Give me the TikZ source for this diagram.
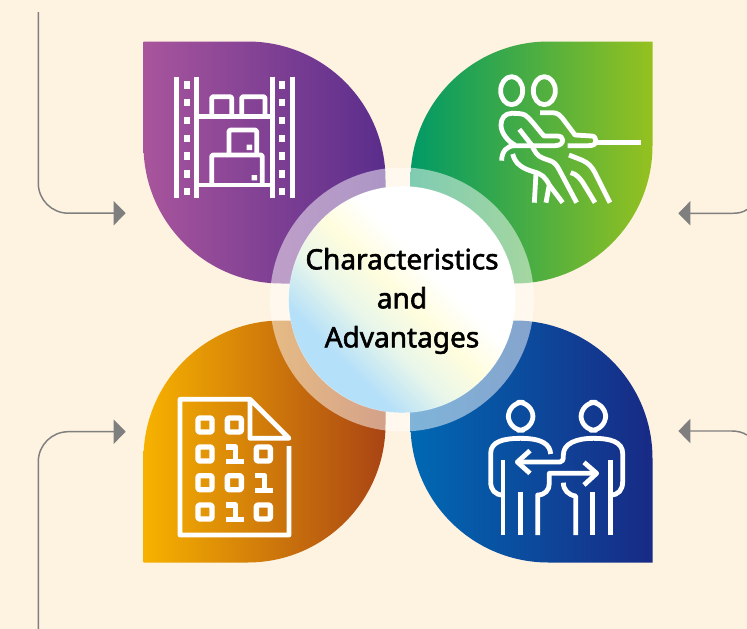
\documentclass[tikz,border=0pt]{standalone}
\usepackage{fontspec}
\usepackage{tikz}
\usetikzlibrary{arrows.meta}
\newfontfamily\hubFont{Noto Sans}[FakeBold=2]
\definecolor{pageBg}{HTML}{FEF2E0}
\definecolor{lineGray}{HTML}{7F7F7F}
\definecolor{purpleA}{HTML}{A8559C}
\definecolor{purpleB}{HTML}{5A2D8C}
\definecolor{greenA}{HTML}{009A66}
\definecolor{greenB}{HTML}{95C11F}
\definecolor{orangeA}{HTML}{F7B200}
\definecolor{orangeB}{HTML}{A94414}
\definecolor{blueA}{HTML}{0069B3}
\definecolor{blueB}{HTML}{182A85}
\definecolor{hubYellow}{HTML}{FFFDDD}
\definecolor{hubGreen}{HTML}{E8F6EA}
\definecolor{hubBlue}{HTML}{B5E0F9}
\pgfdeclarehorizontalshading{hubShade}{100bp}{color(0bp)=(white);color(41bp)=(white);color(49.5bp)=(hubYellow);color(59bp)=(hubGreen);color(69bp)=(hubBlue);color(100bp)=(hubBlue)}
% leaves, #1 and #2 are the top left corner
\newcommand{\leafTL}[3]{\path[#3] (#1,#2) -- (#1+104,#2) arc (-90:0:138) -- (#1+242,#2+242) -- (#1+138,#2+242) arc (90:180:138) -- cycle;}
\newcommand{\leafTR}[3]{\path[#3] (#1+242,#2) -- (#1+242,#2+104) arc (0:90:138) -- (#1,#2+242) -- (#1,#2+138) arc (180:270:138) -- cycle;}
\begin{document}
\begin{tikzpicture}[x=0.75pt, y=-0.75pt, line join=round]
  \tikzset{
    iconLine/.style={draw=white, line width=3.6pt},
    iconZoom/.style={x=0.25pt, y=-0.25pt},
    connector/.style={draw=lineGray, line width=1.1pt},
    headArrow/.style={-{Triangle[length=9pt,width=18pt]}},
    ring/.style={draw=white, opacity=0.5, line width=14.2pt},
  }
  \fill[pageBg] (0,0) rectangle (747,629);
  \useasboundingbox (0,0) rectangle (747,629);
  % petals
  \leafTL{143.5}{41.5}{left color=purpleA, right color=purpleB}
  \leafTR{410.5}{41.5}{left color=greenA, right color=greenB}
  \leafTR{143.5}{320.5}{left color=orangeA, right color=orangeB}
  \leafTL{410.5}{320.5}{left color=blueA, right color=blueB}
  % middle
  \node[circle, minimum size=170pt, inner sep=0pt, shading=hubShade, shading angle=225] (hub) at (402,299.5) {};
  \draw[ring] (hub.center) circle (122.5);
  \node[align=center, font=\hubFont\fontsize{21}{29.25}\selectfont] (hubText) at (402,301) {Characteristics\\and\\Advantages};
  % connectors
  \coordinate (railTL) at (38.3,12);
  \coordinate (tipTL) at (125.7,213.2);
  \coordinate (railBL) at (38.3,629);
  \coordinate (tipBL) at (125.7,431.7);
  \coordinate (railTR) at (747,209.5);
  \coordinate (tipTR) at (678.3,213.3);
  \coordinate (railBR) at (747,435);
  \coordinate (tipBR) at (678.3,431);
  \draw[connector, headArrow, rounded corners=22.5pt] (railTL) -- (railTL |- tipTL) -- (tipTL);
  \draw[connector, headArrow, rounded corners=22.5pt] (railBL) -- (railBL |- tipBL) -- (tipBL);
  \draw[connector, headArrow] (railTR) .. controls (743,212.5) and (738,213.3) .. (732,213.3) -- (tipTR);
  \draw[connector, headArrow] (railBR) .. controls (743,432.5) and (738,431) .. (732,431) -- (tipBR);
  % shelf icon
  \begin{scope}[shift={(130,30)}, iconZoom]
    \foreach \x in {140,200,427,487}
      \draw[iconLine, line width=4.2pt] (\x,140) -- (\x,503);
    \foreach \x in {170,457}
      \foreach \y in {165,218,272,325,378,432,485}
        \fill[white] (\x-9,\y-11) rectangle (\x+9,\y+11);
    \draw[iconLine] (200,260) -- (427,260) (200,465) -- (427,465);
    \draw[iconLine, rounded corners=1pt] (245,260) -- (245,200) -- (305,200) -- (305,260);
    \draw[iconLine, rounded corners=1pt] (335,260) -- (335,200) -- (405,200) -- (405,260);
    \draw[iconLine, rounded corners=1pt] (245,465) -- (245,375) -- (397,375) -- (397,465);
    \draw[iconLine, rounded corners=1pt] (297,375) -- (297,300) -- (380,300) -- (380,375);
    \fill[white] (350,344) rectangle (366,360) (365,435) rectangle (381,451);
  \end{scope}
  % rope icon
  \begin{scope}[shift={(400,30)}, iconZoom]
    \draw[iconLine] (335,182) ellipse (33 and 42);
    \draw[iconLine] (433,182) ellipse (33 and 42);
    \draw[iconLine] (305,392) .. controls (305,365) and (320,347) .. (345,347) -- (465,347) .. controls (480,347) and (488,340) .. (488,330) .. controls (488,322) and (482,318) .. (470,318) -- (432,318) .. controls (415,300) and (395,270) .. (375,255) .. controls (365,250) and (350,250) .. (335,250) .. controls (315,250) and (303,265) .. (303,285) .. controls (303,310) and (325,335) .. (345,345);
    \draw[iconLine] (358,298) -- (395,345) .. controls (405,365) and (410,378) .. (430,385) -- (450,392) .. controls (465,398) and (470,405) .. (478,420) -- (530,518);
    \draw[iconLine] (338,372) .. controls (345,400) and (365,415) .. (400,425) .. controls (425,432) and (435,440) .. (448,465) -- (488,518);
    \draw[iconLine] (408,430) -- (403,518) (447,468) -- (438,518);
    \draw[iconLine] (420,248) -- (455,248) .. controls (475,248) and (480,255) .. (495,275) -- (525,315) -- (575,318) .. controls (585,318) and (587,325) .. (587,338) .. controls (585,343) and (580,347) .. (565,347) -- (503,347);
    \draw[iconLine] (587,338) -- (722,338);
    \draw[iconLine] (507,375) -- (545,390) .. controls (565,398) and (575,410) .. (585,428) -- (630,518);
    \draw[iconLine] (512,428) .. controls (530,432) and (540,445) .. (550,460) -- (585,518);
  \end{scope}
  % data icon
  \begin{scope}[shift={(130,310)}, iconZoom]
    \draw[iconLine] (477,408) -- (477,675) -- (150,675) -- (150,268) -- (360,268) -- (360,385) -- (477,385) -- (360,268);
    \foreach \x/\y in {225/345,313/345,225/432,400/432,225/518,313/518,225/606,400/606}
      \draw[iconLine, line width=4pt, rounded corners=1pt] (\x-21,\y-21) rectangle (\x+21,\y+21);
    \foreach \x/\y in {313/432,400/518,313/606}
      \draw[iconLine, line width=3.8pt] (\x-25,\y-21) -- (\x+4,\y-21) -- (\x+4,\y+23) (\x-25,\y+23) -- (\x+30,\y+23);
  \end{scope}
  % exchange icon
  \begin{scope}[shift={(400,310)}, iconZoom]
    \draw[iconLine, rounded corners=11pt] (325,277) rectangle (399,361);
    \draw[iconLine, rounded corners=11pt] (543,277) rectangle (617,361);
    \draw[iconLine] (452,432) .. controls (450,405) and (430,385) .. (362,385) .. controls (310,385) and (272,395) .. (272,430) -- (272,515) .. controls (272,540) and (285,555) .. (309,555);
    \draw[iconLine] (309,450) -- (309,675) (362,545) -- (362,675);
    \draw[iconLine] (413,675) -- (413,555) .. controls (435,555) and (448,540) .. (448,520) -- (448,490) -- (590,490);
    \draw[iconLine] (552,457) -- (590,490) -- (552,525);
    \draw[iconLine] (390,422) -- (352,456) -- (390,490);
    \draw[iconLine] (352,456) -- (480,456) .. controls (488,456) and (490,450) .. (490,435) .. controls (490,400) and (530,385) .. (580,385) .. controls (630,385) and (668,395) .. (668,430) -- (668,515) .. controls (668,540) and (655,555) .. (632,555);
    \draw[iconLine] (632,450) -- (632,675) (578,545) -- (578,675);
    \draw[iconLine] (527,675) -- (527,558) .. controls (505,555) and (490,540) .. (490,518);
  \end{scope}
\end{tikzpicture}
\end{document}
